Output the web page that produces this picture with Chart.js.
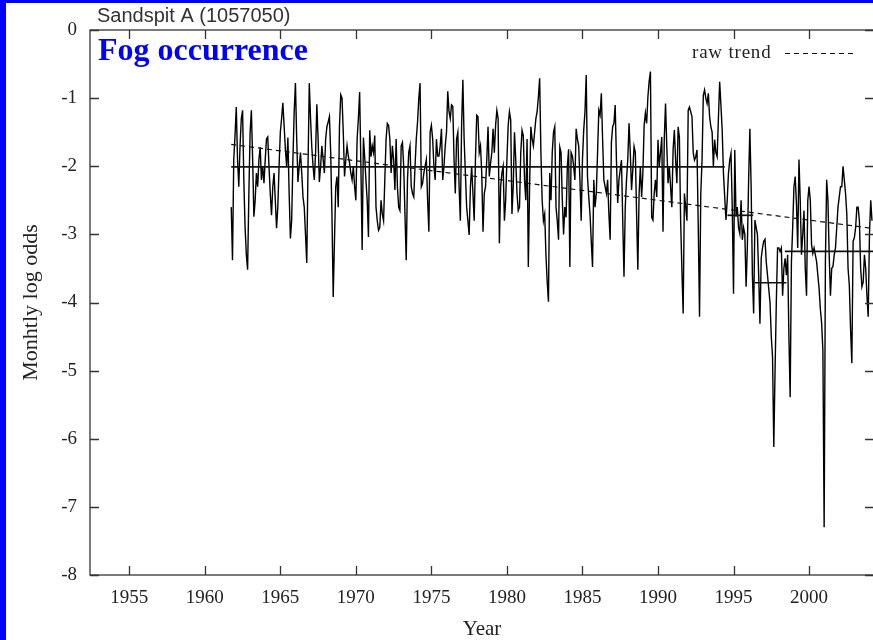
<!DOCTYPE html>
<html>
<head>
<meta charset="utf-8">
<script src="https://cdn.jsdelivr.net/npm/chart.js@4.4.1/dist/chart.umd.min.js"></script>
<style>
  html, body { margin: 0; padding: 0; overflow: hidden; background: #fff; }
  canvas { display: block; }
</style>
</head>
<body>
<canvas id="fog" width="876" height="640"></canvas>
<script>
// Monthly fog occurrence (log odds) at Sandspit A, first value October 1961
const firstMonth = 1961.75;

// Oct 1961 - Nov 1969
const logOddsA = [
  -2.6,-3.38,-1.9,-1.55,-1.13,-1.9,-2.3,-1.7,-1.3,-1.18,-2.2,-2.9,
  -3.3,-3.52,-2.4,-1.5,-1.18,-1.9,-2.74,-2.5,-2.1,-2.3,-1.9,-1.72,
  -2.2,-2.0,-2.25,-1.9,-1.6,-1.57,-2.0,-2.4,-2.72,-2.3,-2.1,-2.5,
  -2.91,-2.6,-2.0,-1.5,-1.3,-1.07,-1.4,-1.75,-2.0,-1.58,-2.4,-3.06,
  -2.8,-1.9,-1.2,-0.78,-1.6,-2.23,-2.0,-1.8,-2.1,-2.45,-2.6,-3.0,
  -3.42,-2.0,-0.78,-1.3,-1.72,-2.0,-2.2,-1.8,-1.09,-1.6,-2.23,-2.0,
  -1.7,-1.9,-2.1,-1.6,-1.42,-1.35,-1.27,-1.8,-2.7,-3.92,-3.1,-2.3,
  -2.15,-2.6,-1.4,-0.95,-1.0,-1.5,-2.15,-1.9,-1.7,-1.85,-1.95,-2.1,
  -2.2,-2.0
];
// Dec 1969 - Jul 1978
const logOddsB = [
  -2.3,-2.5,-1.6,-1.3,-0.91,-2.0,-3.23,-1.58,-1.86,-2.2,
  -2.5,-3.04,-1.47,-1.86,-1.7,-1.8,-1.55,-2.6,-2.8,-2.94,-2.9,-2.5,
  -2.7,-2.8,-2.2,-1.6,-1.37,-1.4,-1.6,-2.1,-1.7,-1.9,-2.35,-1.6,
  -2.3,-2.6,-2.65,-1.7,-1.65,-2.0,-2.7,-3.38,-2.2,-1.8,-1.7,-2.3,
  -2.4,-2.45,-2.0,-1.6,-1.35,-1.0,-0.78,-2.3,-2.25,-2.1,-2.0,-1.9,
  -2.5,-2.96,-1.5,-1.4,-1.6,-2.0,-2.2,-1.6,-1.85,-1.85,-1.7,-1.45,
  -2.2,-2.0,-1.7,-1.5,-0.9,-1.2,-1.3,-1.1,-1.12,-1.9,-2.4,-1.6,
  -1.5,-2.3,-2.8,-1.4,-0.73,-1.6,-2.1,-2.6,-2.8,-3.01,-2.3,-2.0,
  -2.4,-2.8,-1.9,-1.25,-1.27,-1.8,-1.7,-2.1,-2.96,-2.4
];
// Aug 1978 - Feb 1987
const logOddsC = [
  -2.3,-1.9,-1.42,-2.15,-1.95,-1.8,-1.45,-1.8,-1.4,-1.18,
  -1.3,-3.13,-2.3,-2.1,-2.0,-2.8,-2.5,-1.9,-1.4,-1.2,-1.32,-2.7,
  -2.3,-1.5,-1.9,-2.4,-2.65,-2.6,-1.8,-1.47,-1.55,-2.2,-2.5,-1.6,
  -3.48,-2.3,-1.42,-1.6,-1.7,-1.5,-1.3,-1.2,-0.98,-0.71,-1.8,-2.5,
  -2.8,-2.7,-3.3,-3.7,-3.99,-2.1,-2.5,-1.8,-1.5,-1.42,-2.6,-2.8,
  -3.08,-1.72,-1.8,-2.5,-3.0,-2.6,-2.75,-2.0,-1.75,-3.48,-1.8,-1.85,
  -2.0,-2.2,-1.45,-1.6,-1.7,-2.2,-2.8,-1.9,-1.47,-1.2,-0.66,-2.15,
  -2.45,-2.7,-3.1,-3.48,-2.2,-2.6,-2.4,-1.8,-1.18,-1.25,-0.93,-1.6,
  -2.2,-2.3,-2.4,-2.2,-2.7,-3.08,-1.65,-1.42,-1.37
];
// Mar 1987 - Sep 1995
const logOddsD = [
  -1.1,-1.91,-2.54,-2.2,-2.05,-1.91,-2.8,
  -3.62,-2.6,-2.2,-1.9,-1.37,-1.8,-2.35,-2.05,-1.71,-1.8,-2.7,-3.52,
  -2.4,-2.0,-2.45,-2.1,-1.4,-1.22,-1.37,-0.98,-0.75,-0.61,-2.75,-2.79,
  -2.4,-2.2,-2.45,-1.61,-2.0,-1.8,-1.57,-2.96,-1.6,-1.08,-1.71,-2.25,
  -2.0,-2.3,-2.6,-1.76,-1.47,-1.9,-2.25,-1.42,-1.57,-2.8,-3.52,-4.16,
  -2.4,-2.6,-2.8,-1.18,-1.13,-1.2,-1.27,-1.8,-1.91,-1.86,-1.76,-2.9,
  -4.21,-2.4,-1.91,-0.96,-0.88,-1.0,-1.08,-0.93,-1.27,-1.42,-1.5,-2.0,
  -1.61,-1.8,-1.86,-1.3,-0.76,-1.1,-1.47,-2.1,-2.45,-2.79,-2.5,-2.1,
  -1.91,-1.81,-2.6,-3.87,-1.76,-2.74,-2.6,-2.9,-2.99,-2.5,-3.08,-2.9
];
// Oct 1995 - Mar 2004
const logOddsE = [
  -3.0,-3.77,-3.18,-2.2,-1.45,-2.3,-3.6,-4.16,-2.79,-2.9,-3.0,-3.6,
  -4.31,-3.35,-3.2,-3.1,-3.07,-3.4,-3.6,-3.8,-4.0,-4.5,-4.8,-6.12,
  -5.0,-4.0,-3.2,-3.2,-3.25,-3.2,-3.9,-3.5,-3.35,-3.6,-3.3,-4.5,
  -5.39,-3.4,-2.9,-2.3,-2.15,-2.55,-3.2,-1.9,-2.5,-3.3,-3.0,-2.65,
  -3.5,-3.9,-2.5,-2.3,-2.5,-3.15,-3.28,-3.2,-3.3,-3.4,-3.6,-3.8,
  -4.1,-4.3,-4.7,-7.3,-3.4,-2.2,-2.5,-3.3,-3.9,-3.5,-3.47,-3.3,
  -3.2,-2.9,-2.6,-2.45,-2.3,-2.3,-2.0,-2.2,-2.4,-2.7,-3.5,-3.75,
  -4.4,-4.89,-3.1,-3.05,-2.9,-2.6,-2.6,-2.8,-3.5,-3.77,-3.7,-3.3,
  -3.5,-3.9,-4.21,-3.0,-2.5,-2.8
];

// Regime means (step levels) and their time spans
const stepStart = [1961.75, 1994.6, 1996.4, 1998.4];
const stepEnd   = [1994.42, 1996.3, 1998.5, 2004.3];
const stepLevel = [-2.01, -2.72, -3.71, -3.25];

// Raw linear trend
const trendYears  = [1961.75, 2004.3];
const trendValues = [-1.68, -2.915];

// Axis ticks
const yearTicks = [1955, 1960, 1965, 1970, 1975, 1980, 1985, 1990, 1995, 2000];
const oddsTicks = [0, -1, -2, -3, -4, -5, -6, -7, -8];

const monthlyLogOdds = [].concat(logOddsA, logOddsB, logOddsC, logOddsD, logOddsE);
const monthlyPoints = monthlyLogOdds.map((v, i) => ({ x: firstMonth + i / 12, y: v }));

const stepSets = stepLevel.map((lv, i) => ({
  data: [{ x: stepStart[i], y: lv }, { x: stepEnd[i], y: lv }],
  borderColor: '#111',
  borderWidth: 1.7,
  pointRadius: 0,
  order: 2
}));

const serif = '"Liberation Serif", "Times New Roman", serif';
const tickLen = 9;

const decorations = {
  id: 'decorations',
  beforeDraw(chart) {
    const c = chart.ctx;
    c.save();
    c.fillStyle = '#fff';
    c.fillRect(0, 0, chart.width, chart.height);
    c.fillStyle = '#0000ff';
    c.fillRect(0, 0, 6, chart.height);
    c.fillRect(0, 0, chart.width, 3);
    c.restore();
  },
  afterDraw(chart) {
    const c = chart.ctx;
    const a = chart.chartArea;
    const xs = chart.scales.x, ys = chart.scales.y;
    c.save();
    // frame
    c.strokeStyle = '#333';
    c.lineWidth = 1.3;
    c.strokeRect(a.left, a.top, a.right - a.left, a.bottom - a.top);
    // inward ticks on all four sides
    c.beginPath();
    yearTicks.forEach(v => {
      const px = Math.round(xs.getPixelForValue(v)) + 0.5;
      c.moveTo(px, a.bottom); c.lineTo(px, a.bottom - tickLen);
      c.moveTo(px, a.top); c.lineTo(px, a.top + tickLen);
    });
    oddsTicks.forEach(v => {
      const py = Math.round(ys.getPixelForValue(v)) + 0.5;
      c.moveTo(a.left, py); c.lineTo(a.left + tickLen, py);
      c.moveTo(a.right, py); c.lineTo(a.right - tickLen, py);
    });
    c.stroke();

    // station name
    c.fillStyle = '#333';
    c.font = '20px "Liberation Sans", Arial, sans-serif';
    c.textBaseline = 'alphabetic';
    c.textAlign = 'left';
    c.fillText('Sandspit A (1057050)', 97, 22);

    // panel heading
    c.fillStyle = '#0000ff';
    c.font = 'bold 32px ' + serif;
    c.fillText('Fog occurrence', 98, 60);

    // legend
    c.fillStyle = '#222';
    c.font = '19px ' + serif;
    c.letterSpacing = '0.8px';
    c.fillText('raw trend', 692, 58);
    c.letterSpacing = '0px';
    c.strokeStyle = '#111';
    c.lineWidth = 1.2;
    c.setLineDash([5, 4]);
    c.beginPath();
    c.moveTo(785, 53.5); c.lineTo(853, 53.5);
    c.stroke();
    c.restore();
  }
};

new Chart(document.getElementById('fog'), {
  type: 'line',
  data: {
    datasets: [
      {
        data: monthlyPoints,
        borderColor: '#000',
        borderWidth: 1.4,
        pointRadius: 0,
        tension: 0,
        order: 3
      },
      ...stepSets,
      {
        data: trendYears.map((yr, i) => ({ x: yr, y: trendValues[i] })),
        borderColor: '#111',
        borderWidth: 1.2,
        borderDash: [5, 4],
        pointRadius: 0,
        order: 1
      }
    ]
  },
  options: {
    responsive: false,
    animation: false,
    devicePixelRatio: 1,
    layout: { padding: { top: 30, left: 0, right: 2, bottom: 0 } },
    plugins: { legend: { display: false }, tooltip: { enabled: false } },
    scales: {
      x: {
        type: 'linear',
        min: 1952.4,
        max: 2004.3,
        afterBuildTicks: s => { s.ticks = yearTicks.map(v => ({ value: v })); },
        afterFit: s => { s.height = 65; },
        grid: { display: false, drawTicks: false },
        border: { display: false },
        ticks: {
          callback: v => String(v),
          font: { family: serif, size: 19 },
          color: '#222',
          padding: 12,
          maxRotation: 0,
          autoSkip: false
        },
        title: {
          display: true,
          text: 'Year',
          font: { family: serif, size: 21, lineHeight: 1 },
          color: '#222',
          padding: { top: 0, bottom: 0 }
        }
      },
      y: {
        type: 'linear',
        min: -8,
        max: 0,
        afterBuildTicks: s => { s.ticks = oddsTicks.map(v => ({ value: v })); },
        afterFit: s => { s.width = 90; },
        grid: { display: false, drawTicks: false },
        border: { display: false },
        ticks: {
          font: { family: serif, size: 19 },
          color: '#222',
          padding: 13
        },
        title: {
          display: true,
          text: 'Monhtly log odds',
          font: { family: serif, size: 22, lineHeight: 1 },
          color: '#222',
          padding: { top: 20, bottom: 0 }
        }
      }
    }
  },
  plugins: [decorations]
});
</script>
</body>
</html>
